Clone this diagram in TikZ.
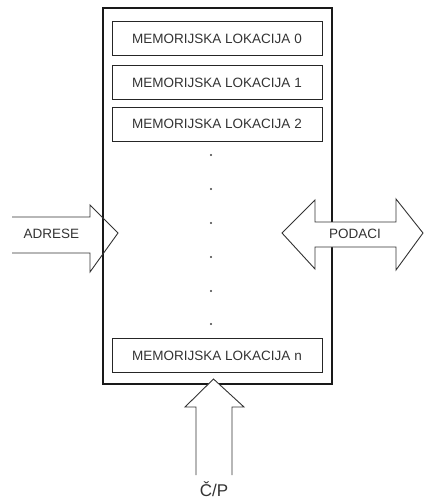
\documentclass[tikz,border=0pt]{standalone}
\usepackage{fontspec}
\setmainfont{Liberation Sans}
\begin{document}
\begin{tikzpicture}[x=1pt,y=-1pt,
  txt/.style={text=black!80, font=\fontsize{13.5}{15}\selectfont, inner sep=0pt},
  membox/.style={draw=black!85, line width=0.9pt, minimum width=210pt, minimum height=34pt, inner sep=0pt, txt},
  outerbox/.style={draw=black!90, line width=1.1pt},
  bigarrow/.style={draw=black!80, line width=0.9pt, line join=miter, fill=white},
  dotmark/.style={circle, fill=black!75, inner sep=0pt, minimum size=2.2pt}
]
\useasboundingbox (0,0) rectangle (424,499);

% memory block
\draw[outerbox] (103,8) rectangle (332,384);
\node[membox] (m0) at (217,38.5) {MEMORIJSKA LOKACIJA 0};
\node[membox] (m1) at (217,82.5) {MEMORIJSKA LOKACIJA 1};
\node[membox] (m2) at (217,124) {MEMORIJSKA LOKACIJA 2};
\node[membox] (mn) at (217,355.5) {MEMORIJSKA LOKACIJA n};

% ellipsis between the locations
\foreach \y [count=\i] in {155,189,223,257,291,324}
  \node[dotmark] (d\i) at (211,\y) {};

% address input (open tail)
\draw[draw=black!80, line width=0.9pt, line join=miter]
  (12,217) -- (90,217) -- (90,205) -- (118,233) -- (90,272) -- (90,253) -- (12,253);
\node[txt] (adr) at (51.5,234) {ADRESE};

% data in both directions
\draw[bigarrow]
  (282,233) -- (315,200) -- (315,222) -- (396,222) -- (396,199) -- (423,233)
  -- (396,270) -- (396,247) -- (315,247) -- (315,269) -- cycle;
\node[txt] (dat) at (355,234) {PODACI};

% read / write control (open tail)
\fill[white] (185,407) -- (213.5,379) -- (244,407) -- cycle;
\draw[draw=black!80, line width=0.9pt, line join=miter]
  (196,475) -- (196,407) -- (185,407) -- (213.5,379) -- (244,407) -- (232,407) -- (232,475);
\node[txt, font=\fontsize{17}{19}\selectfont] (cp) at (214,489) {Č/P};
\end{tikzpicture}
\end{document}
